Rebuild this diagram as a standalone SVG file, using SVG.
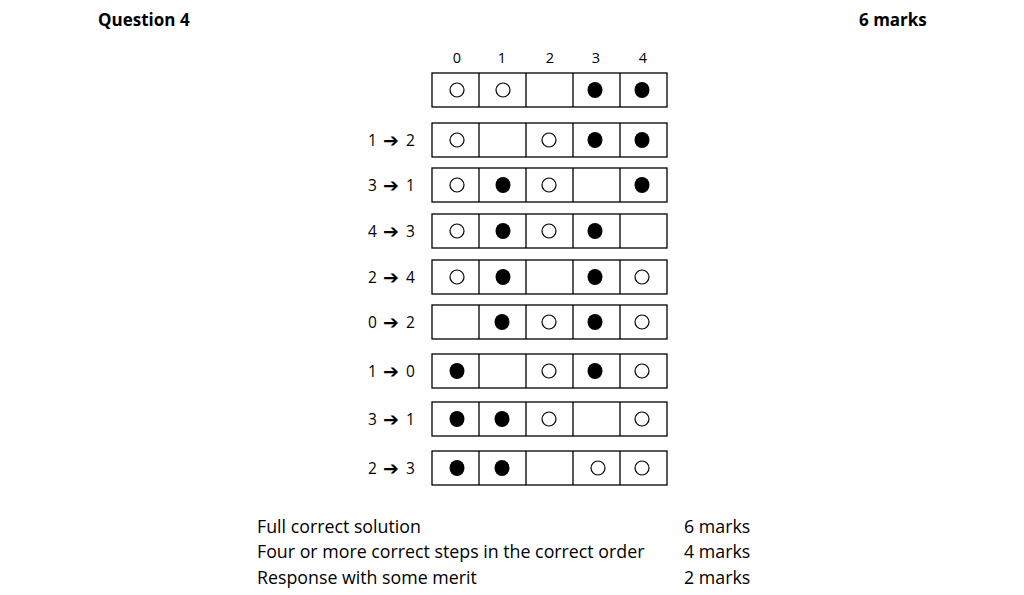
<svg xmlns="http://www.w3.org/2000/svg" xmlns:xlink="http://www.w3.org/1999/xlink" width="1024" height="595" viewBox="0 0 1024 595">
<style>
text{font-family:"Open Sans","Noto Sans","Liberation Sans",sans-serif;fill:#000}
.h{font-weight:bold;font-size:17px}
.b{font-size:17.8px}
.c{font-size:14.5px;text-anchor:middle}
.l{font-size:15.5px}
text .a{font-family:"DejaVu Sans",sans-serif;font-size:19px}
.box{fill:#fff;stroke:#000;stroke-width:1.3}
.div{stroke:#000;stroke-width:1.3}
.o{fill:#fff;stroke:#000;stroke-width:1.2}
.f{fill:#000}
</style>
<defs>
<g id="cells">
<rect class="box" x="432" y="0" width="235" height="34"/>
<path class="div" d="M479 0V34M526 0V34M573 0V34M620 0V34"/>
</g>
<circle id="O" class="o" r="7" cx="0" cy="17"/>
<ellipse id="F" class="f" rx="7.5" ry="8" cx="0" cy="17"/>
</defs>
<rect width="1024" height="595" fill="#fff"/>
<text class="h" x="98" y="26">Question 4</text>
<text class="h" x="859" y="26">6 marks</text>
<g id="col-labels">
<text class="c" x="457" y="63">0</text>
<text class="c" x="502" y="63">1</text>
<text class="c" x="550" y="63">2</text>
<text class="c" x="596" y="63">3</text>
<text class="c" x="643" y="63">4</text>
</g>
<g id="row0" transform="translate(0,73)">
<use xlink:href="#cells"/>
<use xlink:href="#O" x="457"/><use xlink:href="#O" x="503"/><use xlink:href="#F" x="595"/><use xlink:href="#F" x="642"/>
</g>
<g id="row1" transform="translate(0,123)">
<text class="l" x="368" y="22.5">1<tspan class="a" x="383" y="23.5">➔</tspan><tspan x="406" y="22.5">2</tspan></text>
<use xlink:href="#cells"/>
<use xlink:href="#O" x="457"/><use xlink:href="#O" x="549"/><use xlink:href="#F" x="595"/><use xlink:href="#F" x="642"/>
</g>
<g id="row2" transform="translate(0,168)">
<text class="l" x="368" y="22.5">3<tspan class="a" x="383" y="23.5">➔</tspan><tspan x="406" y="22.5">1</tspan></text>
<use xlink:href="#cells"/>
<use xlink:href="#O" x="457"/><use xlink:href="#F" x="503"/><use xlink:href="#O" x="549"/><use xlink:href="#F" x="642"/>
</g>
<g id="row3" transform="translate(0,214)">
<text class="l" x="368" y="22.5">4<tspan class="a" x="383" y="23.5">➔</tspan><tspan x="406" y="22.5">3</tspan></text>
<use xlink:href="#cells"/>
<use xlink:href="#O" x="457"/><use xlink:href="#F" x="503"/><use xlink:href="#O" x="549"/><use xlink:href="#F" x="595"/>
</g>
<g id="row4" transform="translate(0,260)">
<text class="l" x="368" y="22.5">2<tspan class="a" x="383" y="23.5">➔</tspan><tspan x="406" y="22.5">4</tspan></text>
<use xlink:href="#cells"/>
<use xlink:href="#O" x="457"/><use xlink:href="#F" x="503"/><use xlink:href="#F" x="595"/><use xlink:href="#O" x="642"/>
</g>
<g id="row5" transform="translate(0,305)">
<text class="l" x="368" y="22.5">0<tspan class="a" x="383" y="23.5">➔</tspan><tspan x="406" y="22.5">2</tspan></text>
<use xlink:href="#cells"/>
<use xlink:href="#F" x="502"/><use xlink:href="#O" x="549"/><use xlink:href="#F" x="595"/><use xlink:href="#O" x="642"/>
</g>
<g id="row6" transform="translate(0,354)">
<text class="l" x="368" y="22.5">1<tspan class="a" x="383" y="23.5">➔</tspan><tspan x="406" y="22.5">0</tspan></text>
<use xlink:href="#cells"/>
<use xlink:href="#F" x="457"/><use xlink:href="#O" x="549"/><use xlink:href="#F" x="595"/><use xlink:href="#O" x="642"/>
</g>
<g id="row7" transform="translate(0,402)">
<text class="l" x="368" y="22.5">3<tspan class="a" x="383" y="23.5">➔</tspan><tspan x="406" y="22.5">1</tspan></text>
<use xlink:href="#cells"/>
<use xlink:href="#F" x="457"/><use xlink:href="#F" x="502"/><use xlink:href="#O" x="549"/><use xlink:href="#O" x="642"/>
</g>
<g id="row8" transform="translate(0,451)">
<text class="l" x="368" y="22.5">2<tspan class="a" x="383" y="23.5">➔</tspan><tspan x="406" y="22.5">3</tspan></text>
<use xlink:href="#cells"/>
<use xlink:href="#F" x="457"/><use xlink:href="#F" x="502"/><use xlink:href="#O" x="598"/><use xlink:href="#O" x="642"/>
</g>
<g id="marking">
<text class="b" x="257" y="533">Full correct solution</text>
<text class="b" x="257" y="558">Four or more correct steps in the correct order</text>
<text class="b" x="257" y="584">Response with some merit</text>
<text class="b" x="684" y="533">6 marks</text>
<text class="b" x="684" y="558">4 marks</text>
<text class="b" x="684" y="584">2 marks</text>
</g>
</svg>
